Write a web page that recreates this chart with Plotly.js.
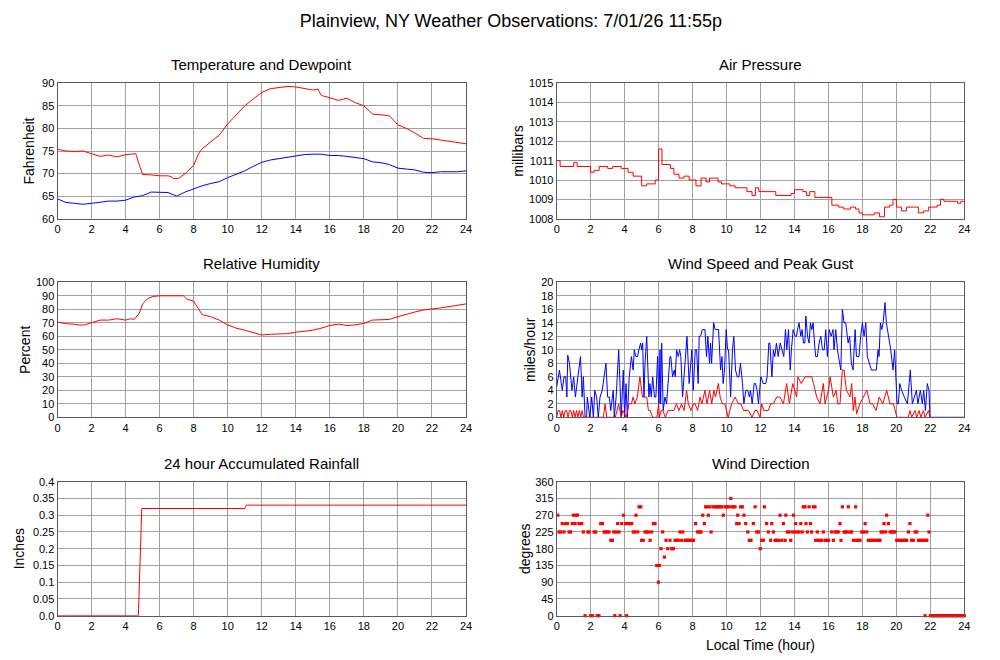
<!DOCTYPE html>
<html>
<head>
<meta charset="utf-8">
<script src="https://cdn.plot.ly/plotly-3.0.1.min.js"></script>
<style>html,body{margin:0;padding:0;background:#fff;}#chart{width:1000px;height:660px;}</style>
</head>
<body>
<div id="chart"></div>
<script>
// ---------------- DATA ----------------
const mainTitle = "Plainview, NY Weather Observations: 7/01/26 11:55p";
const panelTitles = ["Temperature and Dewpoint", "Air Pressure", "Relative Humidity", "Wind Speed and Peak Gust", "24 hour Accumulated Rainfall", "Wind Direction"];
const yTitles = ["Fahrenheit", "millibars", "Percent", "miles/hour", "Inches", "degrees"];
const xTitle = "Local Time (hour)";

const tempHours = [0,0.5,1,1.5,2,2.5,3,3.5,4,4.6,4.8,5.0,5.5,6,6.5,6.7,6.8,7.1,7.5,7.8,8.0,8.3,8.5,9,9.5,10,10.5,11,11.5,12,12.5,13,13.5,14,14.5,15,15.3,15.5,16,16.5,17,17.5,18,18.5,19,19.5,20,20.5,21,21.5,22,22.5,23,23.5,24];
const temperature = [75.4,75.0,74.9,75.0,74.4,73.8,74.1,73.7,74.2,74.4,72.0,69.8,69.7,69.5,69.5,69.3,68.9,68.9,70.0,71.2,71.8,74.5,75.5,77.0,78.5,81.0,83.0,85.0,86.5,88.0,88.8,89.0,89.3,89.2,88.8,88.5,88.7,87.3,86.8,86.2,86.7,85.7,85.0,83.2,83.0,82.8,80.8,80.0,79.0,77.8,77.7,77.4,77.2,76.8,76.6];

const dewHours = [0,0.5,1,1.5,2,2.5,3,3.5,4,4.5,5,5.5,6,6.5,7,7.5,8,8.5,9,9.5,10,10.5,11,11.5,12,12.5,13,13.5,14,14.5,15,15.5,16,16.5,17,17.5,18,18.5,19,19.5,20,20.5,21,21.5,22,22.5,23,23.5,24];
const dewpoint = [64.4,63.6,63.4,63.2,63.4,63.7,63.9,63.9,64.1,64.8,65.1,65.9,65.9,65.8,65.0,65.9,66.6,67.3,67.8,68.2,69.1,69.9,70.6,71.6,72.5,73.0,73.3,73.6,73.9,74.2,74.3,74.3,74.0,74.0,73.8,73.6,73.3,72.6,72.4,72.0,71.2,71.0,70.8,70.3,70.2,70.4,70.4,70.4,70.6];

const presHours = [0,0.2,1.0,1.2,2.0,2.2,2.5,3.0,3.3,3.8,4.2,4.5,5.0,5.3,5.8,6.0,6.2,6.7,6.9,7.2,7.5,7.8,8.2,8.5,8.8,9.0,9.5,9.7,10.2,10.5,11.2,11.5,11.7,11.9,12.9,13.8,14.0,14.5,14.7,14.9,15.2,16.2,16.6,16.9,17.3,17.6,17.8,18.0,18.7,19.0,19.3,19.6,19.8,20.0,20.3,20.6,21.3,21.6,21.9,22.4,22.6,22.8,23.6,23.8,24];
const pressure = [1011.0,1010.7,1010.9,1010.7,1010.4,1010.5,1010.7,1010.6,1010.7,1010.6,1010.4,1010.2,1009.7,1009.8,1010.0,1011.6,1010.8,1010.6,1010.3,1010.1,1010.2,1010.0,1009.7,1010.1,1009.9,1010.1,1009.9,1009.8,1009.7,1009.6,1009.4,1009.2,1009.6,1009.4,1009.2,1009.3,1009.5,1009.4,1009.2,1009.4,1009.1,1008.7,1008.6,1008.5,1008.6,1008.5,1008.3,1008.2,1008.3,1008.1,1008.6,1008.7,1009.0,1008.6,1008.4,1008.6,1008.3,1008.4,1008.6,1008.7,1009.0,1008.9,1008.8,1008.9,1008.9];

const rhHours = [0,0.5,1,1.3,1.6,2,2.5,3,3.5,4,4.3,4.5,4.8,5,5.3,5.6,6,6.5,7,7.4,7.6,8,8.2,8.5,9,9.5,10,10.5,11,11.5,12,12.5,13,13.5,14,14.5,15,15.5,16,16.5,17,17.5,18,18.5,19,19.5,20,20.5,21,21.5,22,22.5,23,23.5,24];
const humidity = [70.5,69.3,69,68.3,68.5,70,72,72,73,72,73,72.5,77,84,88,89.5,90,90,90,90,87.5,86,82,76,74.5,72,68.5,66,64.5,63,61,61.5,61.5,62,63,63.5,64.5,66,68,69,68,68.5,69.5,72,72.5,72.5,74.5,76.5,78,79.5,80,81,82,83,84];

const gustHours = [0,0.16,0.33,0.43,0.53,0.6,0.65,0.75,0.9,1.0,1.1,1.2,1.25,1.4,1.5,1.57,1.67,1.76,1.8,1.95,2.06,2.16,2.24,2.35,2.45,2.55,2.68,2.8,2.9,3.0,3.1,3.18,3.33,3.39,3.5,3.65,3.75,3.8,3.92,4.0,4.08,4.16,4.27,4.4,4.5,4.57,4.66,4.76,4.84,4.94,5.0,5.06,5.14,5.2,5.3,5.43,5.49,5.57,5.65,5.76,5.84,5.94,6.02,6.08,6.12,6.18,6.27,6.37,6.47,6.67,6.72,6.82,6.92,6.98,7.06,7.16,7.24,7.31,7.41,7.51,7.59,7.67,7.8,7.9,7.96,8.04,8.16,8.24,8.33,8.39,8.47,8.57,8.73,8.82,8.9,9.0,9.06,9.12,9.24,9.33,9.53,9.65,9.73,9.8,9.88,9.98,10.06,10.12,10.24,10.35,10.43,10.53,10.63,10.73,10.82,10.94,11.02,11.14,11.25,11.35,11.41,11.51,11.63,11.71,11.8,11.88,12.02,12.16,12.31,12.39,12.49,12.55,12.67,12.76,12.84,12.94,13.04,13.16,13.27,13.37,13.47,13.55,13.65,13.75,13.82,13.92,14.04,14.12,14.18,14.27,14.37,14.45,14.53,14.61,14.67,14.77,14.86,14.94,15.02,15.1,15.18,15.25,15.35,15.45,15.55,15.65,15.75,15.84,15.94,16.04,16.16,16.27,16.33,16.43,16.53,16.73,16.82,16.92,17.02,17.16,17.25,17.35,17.45,17.57,17.65,17.8,17.9,18.0,18.1,18.2,18.29,18.43,18.53,18.73,18.82,18.92,18.98,19.06,19.14,19.22,19.33,19.41,19.53,19.67,19.8,19.9,20.04,20.12,20.2,20.31,20.47,20.65,20.82,20.94,21.06,21.18,21.27,21.41,21.53,21.61,21.71,21.82,21.92,21.98,24];
const gust = [4.5,7,4,6,6,3,9.2,8,4,6,3,5,6,9,3,6,0,0,3,0,3,0,4,3,0,3,4,6,8,3,3,1,4,0,3,10,3,0,7,0,5,0,6,9,7,10,9,9,10,11,10,11,3,8,12,3,5,3,6,3,3,9,2,10,2,11,1,3,2,9,9,6,7,6,10,9,10,9,3,6,9,12,5,9,10,4,10,10,5,12,12,13,13,9,12,8,11,8,14,13,13,7,9,5,7,13,10,10,3,10,12,7,6,6,8,5,2,4,4,3,4,2,5,5,4,2,6,5,5,6,11,11,6,10,9,11,9,11,10,9,13,10,13,7,10,13,12,12,13,14,12,13,11,11,15,12,11,14,13,14,11,9,9,11,12,10,10,13,9,13,12,13,10,13,10,7,16,14,14,11,12,8,7,13,9,9,12,14,12,14,9,8,7,7,7,10,9,14,13,14,17,14,12,10,7,10,2,2,5,4,3,2,7,2,3,4,2,4,2,4,1,5,4,0,0];

const speedHours = [0,0.08,0.17,0.25,0.33,0.42,0.5,0.58,0.67,0.75,0.83,0.92,1.0,1.08,1.17,1.25,1.33,1.42,1.5,1.58,2.75,2.85,2.95,3.45,3.55,3.65,3.8,3.9,4.1,4.25,4.4,4.5,4.6,4.75,4.9,5.05,5.15,5.3,5.4,5.5,5.65,5.9,6.0,6.05,6.15,6.25,6.4,6.55,6.7,6.9,7.05,7.2,7.35,7.5,7.65,7.75,7.9,8.05,8.15,8.3,8.44,8.55,8.73,8.85,9.0,9.13,9.25,9.35,9.52,9.62,9.75,9.9,10.1,10.3,10.5,10.7,10.85,11.0,11.3,11.5,11.68,11.8,11.97,12.07,12.2,12.46,12.6,12.76,12.95,13.15,13.35,13.54,13.7,13.9,14.13,14.2,14.4,14.62,14.8,15.02,15.12,15.31,15.5,15.7,15.8,16.0,16.1,16.29,16.45,16.55,16.68,16.82,16.92,17.06,17.27,17.37,17.46,17.56,17.66,17.85,18.06,18.26,18.45,18.6,18.8,18.99,19.2,19.43,19.62,19.83,20.03,20.7,20.8,20.9,21.1,21.2,21.34,21.44,21.59,21.69,21.89,21.98];
const windSpeed = [0,1,1,0,1,0,1,1,0,1,1,0,1,0,1,0,1,0,1,0,0,2,0,0,1,2,0,1,0,2,2,3,2,3,6,3,3,3,1,1,0,0,2,0,1,1,0,1,1,1,2,1,2,1,4,2,1,2,2,1,3,2,4,2,4,2,4,3,5,3,2,2,0,2,3,2,2,1,1,0,1,1,0,2,1,1,2,2,3,3,2,5,2,5,3,6,5,6,6,6,5,3,2,5,2,4,6,3,4,2,2,7,7,4,3,5,1,3,0.5,2,3,4,2,2,1,3,2,4,2,2,0,0,1,0,1,0,1,0,1,0,1,0];

const rainHours = [0,4.75,4.95,11.0,11.1,24];
const rainfall = [0,0,0.32,0.32,0.33,0.33];
const rainTickVals = [0,0.05,0.1,0.15,0.2,0.25,0.3,0.35,0.4];
const rainTickText = ["0.0","0.05","0.1","0.15","0.2","0.25","0.3","0.35","0.4"];

const dirHours = [0.06,0.14,0.24,0.33,0.43,0.53,0.63,0.73,0.82,0.92,0.98,1.08,1.15,1.22,1.31,1.47,1.57,1.67,1.83,1.90,2.00,2.10,2.20,2.30,2.39,2.49,2.59,2.69,2.79,2.89,2.98,3.08,3.18,3.28,3.36,3.42,3.51,3.59,3.67,3.73,3.83,3.93,4.06,4.12,4.22,4.32,4.42,4.51,4.61,4.67,4.77,4.85,4.95,5.00,5.10,5.20,5.30,5.40,5.50,5.59,5.69,5.79,5.89,5.99,6.05,6.14,6.24,6.34,6.44,6.54,6.67,6.77,6.87,6.97,7.07,7.16,7.26,7.36,7.42,7.56,7.65,7.75,7.85,7.95,8.05,8.18,8.30,8.40,8.50,8.60,8.69,8.77,8.87,8.93,9.03,9.09,9.22,9.32,9.42,9.52,9.62,9.72,9.81,9.91,10.01,10.11,10.25,10.30,10.40,10.50,10.60,10.66,10.74,10.83,10.93,11.03,11.13,11.25,11.34,11.44,11.58,11.68,11.78,11.88,11.99,12.07,12.17,12.23,12.36,12.46,12.60,12.66,12.76,12.86,12.95,13.05,13.15,13.25,13.35,13.45,13.49,13.58,13.68,13.78,13.88,13.94,14.03,14.07,14.17,14.27,14.37,14.46,14.52,14.62,14.68,14.76,14.86,14.94,15.01,15.11,15.21,15.25,15.35,15.41,15.51,15.60,15.70,15.80,15.90,16.00,16.19,16.29,16.39,16.49,16.58,16.68,16.74,16.82,16.92,17.01,17.11,17.17,17.27,17.37,17.47,17.60,17.66,17.76,17.86,17.96,18.06,18.16,18.25,18.35,18.45,18.55,18.65,18.74,18.84,18.94,19.04,19.10,19.20,19.27,19.37,19.43,19.53,19.63,19.72,19.82,19.92,20.02,20.12,20.22,20.31,20.41,20.51,20.61,20.71,20.80,20.90,21.00,21.10,21.20,21.30,21.39,21.49,21.59,21.69,21.74,21.79,21.85,21.92,22.00,22.08,22.17,22.25,22.33,22.42,22.50,22.58,22.67,22.75,22.83,22.92,23.00,23.08,23.17,23.25,23.33,23.42,23.50,23.58,23.67,23.75,23.83,23.92,24.00];
const windDir = [270,225,225,247.5,225,247.5,247.5,225,225,247.5,270,247.5,270,270,247.5,247.5,225,0,225,225,0,0,225,225,0,0,247.5,247.5,225,225,225,225,202.5,202.5,225,0,225,247.5,225,0,247.5,270,247.5,0,247.5,247.5,247.5,225,225,270,225,292.5,292.5,202.5,202.5,225,225,225,202.5,225,247.5,247.5,135,90,135,180,225,157.5,202.5,180,202.5,180,180,202.5,202.5,202.5,225,202.5,225,202.5,202.5,202.5,202.5,202.5,202.5,247.5,225,225,225,270,247.5,292.5,292.5,270,292.5,225,292.5,292.5,292.5,292.5,292.5,292.5,270,292.5,292.5,292.5,315,292.5,292.5,292.5,247.5,270,247.5,292.5,292.5,270,247.5,225,202.5,202.5,247.5,292.5,225,225,180,202.5,202.5,292.5,247.5,225,202.5,247.5,225,202.5,202.5,202.5,270,202.5,247.5,202.5,270,225,225,202.5,225,270,225,247.5,225,225,247.5,225,292.5,292.5,247.5,225,292.5,247.5,225,292.5,292.5,202.5,225,202.5,202.5,202.5,225,202.5,202.5,202.5,225,202.5,225,225,225,247.5,202.5,292.5,225,225,225,292.5,225,225,202.5,292.5,202.5,202.5,202.5,225,225,247.5,225,202.5,202.5,202.5,202.5,202.5,202.5,202.5,202.5,225,225,247.5,225,270,247.5,225,225,225,225,202.5,202.5,202.5,202.5,202.5,202.5,202.5,225,247.5,202.5,202.5,225,225,202.5,202.5,202.5,202.5,0,202.5,202.5,270,225,0,0,0,0,0,0,0,0,0,0,0,0,0,0,0,0,0,0,0,0,0,0,0,0,0];

// ---------------- LAYOUT ----------------
const W = 1000, H = 660;
const colX = [[57.5, 466], [556.7, 964.3]];
const rowY = [[83.3, 218.7], [282.3, 417.3], [481.7, 615.7]];
const FONT = "Liberation Sans, Arial, Helvetica, sans-serif";
const RED = "#ff0000", BLUE = "#0000ff";

function xdom(c) { return [colX[c][0] / W, colX[c][1] / W]; }
function ydom(r) { return [1 - rowY[r][1] / H, 1 - rowY[r][0] / H]; }

function axisBase() {
  return {
    showline: true, mirror: true, linecolor: "#5a5a5a", linewidth: 1,
    showgrid: true, gridcolor: "#a0a0a0", gridwidth: 1,
    zeroline: false, ticks: "", fixedrange: true,
    tickfont: {family: FONT, size: 11, color: "#000"}
  };
}

const layout = {
  width: W, height: H,
  margin: {l: 0, r: 0, t: 0, b: 0},
  paper_bgcolor: "#fff", plot_bgcolor: "#fff",
  showlegend: false, hovermode: false,
  font: {family: FONT, color: "#000"},
  title: {text: mainTitle, x: 511 / W, xanchor: "center", y: 1 - 20.5 / H, yanchor: "middle", font: {family: FONT, size: 18, color: "#000"}},
  annotations: []
};

const yRanges = [[60, 90], [1008, 1015], [0, 100], [0, 20], [0, 0.4], [0, 360]];
const yDticks = [5, 1, 10, 2, 0.05, 45];
const yStandoffs = [4, 2, 2, 2, 4, 1];

for (let i = 0; i < 6; i++) {
  const r = Math.floor(i / 2), c = i % 2;
  const n = i === 0 ? "" : String(i + 1);
  const xa = Object.assign(axisBase(), {
    domain: xdom(c), range: [0, 24], dtick: 2, tick0: 0, anchor: "y" + n
  });
  const ya = Object.assign(axisBase(), {
    domain: ydom(r), range: yRanges[i], dtick: yDticks[i], tick0: yRanges[i][0], anchor: "x" + n,
    title: {text: yTitles[i], font: {family: FONT, size: 14, color: "#000"}, standoff: yStandoffs[i]}
  });
  if (i === 1) ya.tickformat = "d";
  if (i === 4) { ya.tickmode = "array"; ya.tickvals = rainTickVals; ya.ticktext = rainTickText; }
  if (i === 5) xa.title = {text: xTitle, font: {family: FONT, size: 14, color: "#000"}, standoff: 9};
  layout["xaxis" + n] = xa;
  layout["yaxis" + n] = ya;
  const d = xdom(c);
  layout.annotations.push({
    text: panelTitles[i], xref: "paper", yref: "paper",
    x: (d[0] + d[1]) / 2, y: 1 - (rowY[r][0] - 18.5) / H,
    xanchor: "center", yanchor: "middle", showarrow: false,
    font: {family: FONT, size: 15, color: "#000"}
  });
}

const ln = (color) => ({color: color, width: 1});
const traces = [
  {x: tempHours, y: temperature, type: "scatter", mode: "lines", line: ln(RED), xaxis: "x", yaxis: "y"},
  {x: dewHours, y: dewpoint, type: "scatter", mode: "lines", line: ln(BLUE), xaxis: "x", yaxis: "y"},
  {x: presHours, y: pressure, type: "scatter", mode: "lines", line: Object.assign(ln(RED), {shape: "hv"}), xaxis: "x2", yaxis: "y2"},
  {x: rhHours, y: humidity, type: "scatter", mode: "lines", line: ln(RED), xaxis: "x3", yaxis: "y3"},
  {x: gustHours, y: gust, type: "scatter", mode: "lines", line: ln(BLUE), xaxis: "x4", yaxis: "y4"},
  {x: speedHours, y: windSpeed, type: "scatter", mode: "lines", line: ln(RED), xaxis: "x4", yaxis: "y4"},
  {x: rainHours, y: rainfall, type: "scatter", mode: "lines", line: ln(RED), xaxis: "x5", yaxis: "y5"},
  {x: dirHours, y: windDir, type: "scatter", mode: "markers", marker: {color: RED, symbol: "square", size: 3.2, line: {width: 0}}, xaxis: "x6", yaxis: "y6", cliponaxis: false}
];

Plotly.newPlot("chart", traces, layout, {staticPlot: true, displayModeBar: false});
</script>
</body>
</html>
